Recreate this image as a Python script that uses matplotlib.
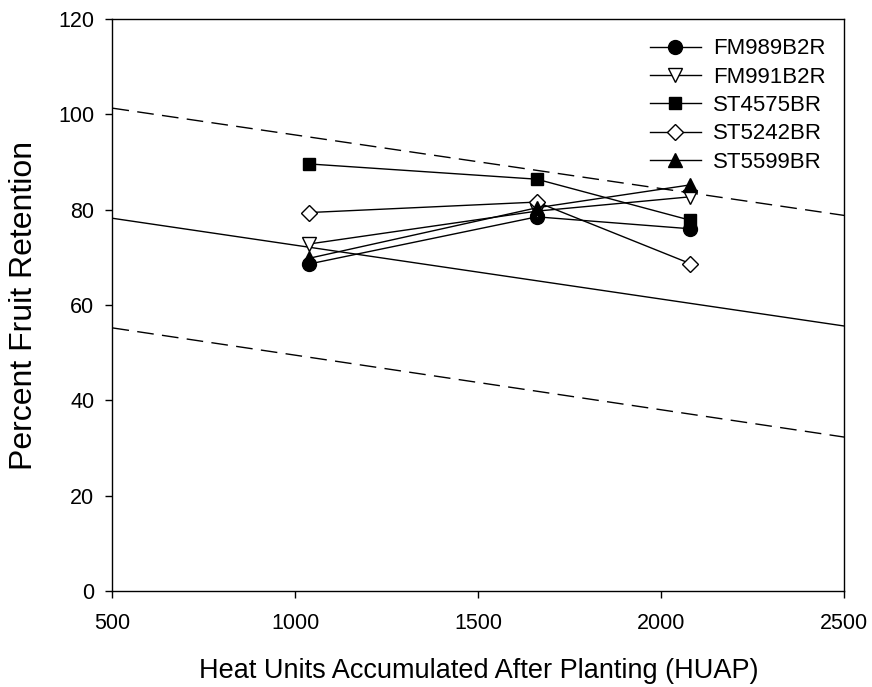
import numpy as np
import matplotlib.pyplot as plt

plt.rcParams['font.family'] = ['Liberation Sans', 'DejaVu Sans']

# Data
huap = [1037, 1660, 2079]
fm989 = [68.6, 78.5, 76.0]
fm991 = [72.8, 79.7, 82.7]
st4575 = [89.6, 86.4, 77.8]
st5242 = [79.4, 81.6, 68.7]
st5599 = [69.8, 80.4, 85.2]

# regression line and bounds (endpoints at x = 500 and 2500)
fit_x = [500, 2500]
fit_y = [78.2, 55.6]
upper_y = [101.3, 78.8]
lower_y = [55.2, 32.3]

fig = plt.figure(figsize=(8.72, 6.87), dpi=100)
ax = fig.add_axes([0.129, 0.1397, 0.839, 0.8326])

ax.plot(fit_x, fit_y, color='black', lw=1.0)
ax.plot(fit_x, upper_y, color='black', lw=1.0, dashes=(12, 6))
ax.plot(fit_x, lower_y, color='black', lw=1.0, dashes=(12, 6))

series = [
    ('FM989B2R', fm989, 'o', 'black', 10),
    ('FM991B2R', fm991, 'v', 'white', 10.5),
    ('ST4575BR', st4575, 's', 'black', 8.5),
    ('ST5242BR', st5242, 'D', 'white', 8),
    ('ST5599BR', st5599, '^', 'black', 10.5),
]
for name, vals, mk, fc, ms in series:
    ax.plot(huap, vals, color='black', lw=1.0, marker=mk, ms=ms,
            mfc=fc, mec='black', mew=1.0, label=name)

ax.set_xlim(500, 2500)
ax.set_ylim(0, 120)
ax.set_xticks([500, 1000, 1500, 2000, 2500])
ax.set_yticks([0, 20, 40, 60, 80, 100, 120])
ax.tick_params(direction='out', length=5, width=1, labelsize=15.5)
ax.tick_params(axis='x', pad=11)
ax.tick_params(axis='y', pad=8)
for sp in ax.spines.values():
    sp.set_linewidth(1.0)

ax.set_xlabel('Heat Units Accumulated After Planting (HUAP)', fontsize=19.5, labelpad=17)
ax.set_ylabel('Percent Fruit Retention', fontsize=23, labelpad=14)

ax.legend(loc='upper right', bbox_to_anchor=(0.975, 0.966), frameon=False,
          fontsize=16, handlelength=2.3, labelspacing=0.33, borderaxespad=0,
          borderpad=0, handletextpad=0.55)

fig.savefig('out.png', dpi=100)
